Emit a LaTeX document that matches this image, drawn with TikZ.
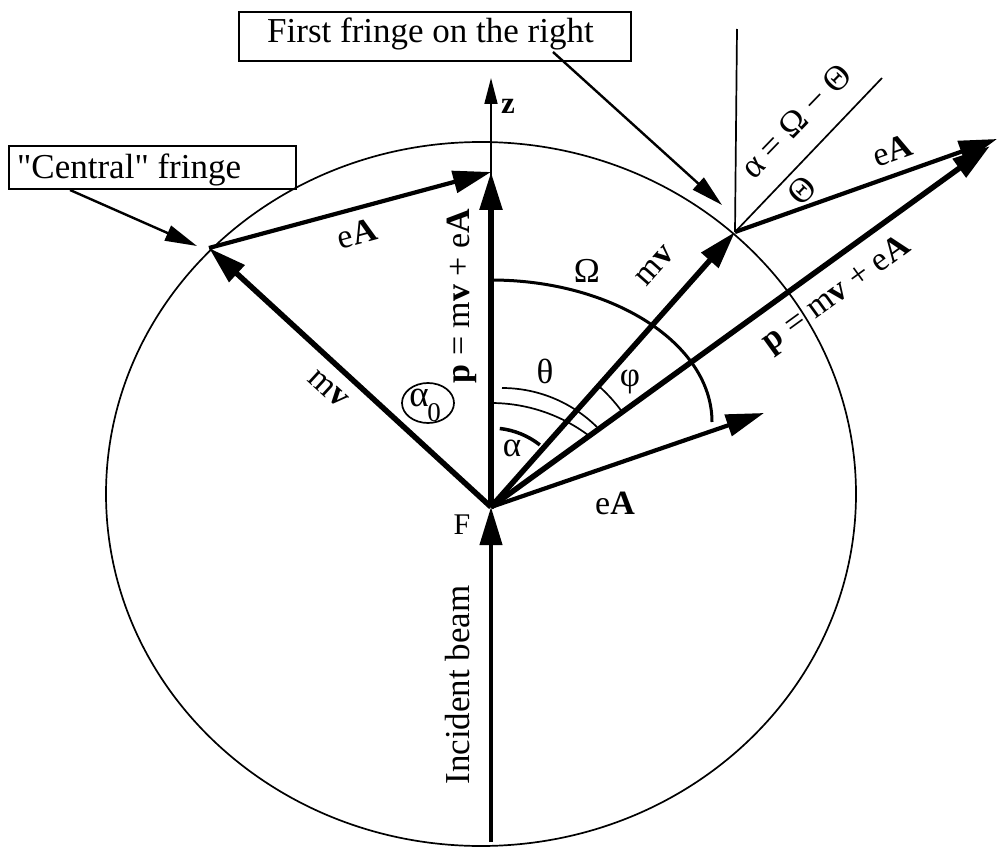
\documentclass[tikz,border=0pt]{standalone}
\usepackage{fontspec}
\newfontfamily\tms{Liberation Serif}
\newfontfamily\pal{Liberation Serif}
\usetikzlibrary{arrows.meta}
\begin{document}
\begin{tikzpicture}[x=1pt,y=-1pt,
  vec/.style={line width=5.5pt, -{Triangle[length=38pt,width=22pt]}},
  veci/.style={line width=4.2pt, -{Triangle[length=38pt,width=22pt]}},
  thinl/.style={line width=1.7pt},
  lead/.style={line width=2.4pt, -{Triangle[length=32pt,width=16pt]}},
  tlab/.style={font=\tms\fontsize{34}{40}\selectfont, inner sep=0pt},
  glab/.style={font=\tms\fontsize{35}{40}\selectfont, inner sep=0pt},
  plab/.style={font=\pal\fontsize{35}{40}\selectfont, inner sep=0pt},
]
\useasboundingbox (0,0) rectangle (997,848);
% circle
\draw[thinl] (481,494) ellipse [x radius=375, y radius=352];
% points
\coordinate (F) at (491,507);
\coordinate (Pt) at (491,172);
\coordinate (L) at (209,248);
\coordinate (R) at (735,232);
\coordinate (T) at (997,139);
\coordinate (Pr) at (990,146);
\coordinate (E) at (764,413);
\coordinate (Z) at (491,78);
\coordinate (Inc) at (491,842);
\coordinate (Vtop) at (737,29);
\coordinate (Dtop) at (882,78);
% z axis
\draw[thinl, -{Triangle[length=26pt,width=13pt]}] (F) -- (Z);
% vectors
\draw[veci] (Inc) -- (F);
\draw[vec] (F) -- (Pt);
\draw[vec] (F) -- (L);
\draw[veci] (L) -- (Pt);
\draw[vec] (F) -- (R);
\draw[veci] (R) -- (T);
\draw[vec] (F) -- (Pr);
\draw[veci] (F) -- (E);
% fringe lines
\draw[thinl] (R) -- (Vtop);
\draw[thinl] (R) -- (Dtop);
% arcs
\draw[line width=3pt] (491,280) .. controls (613,280) and (712,344) .. (712,422);
\draw[thinl] (502,388) arc[start angle=-90, end angle=-45.3, radius=135];
\draw[thinl] (491,403) arc[start angle=-90, end angle=-53.5, radius=163];
\draw[line width=3.5pt] (F) ++(-83.6:79) arc[start angle=-83.6, end angle=-51.8, radius=79];
\draw[thinl] (F) ++(-48.4:162) arc[start angle=-48.4, end angle=-35.9, radius=162];
% boxes
\node[draw, line width=2pt, anchor=north west, minimum width=392pt, minimum height=49pt, inner sep=0pt] (box1) at (238,11) {};
\node[plab, anchor=base west] (box1t) at (267,43) {First fringe on the right};
\node[draw, line width=2pt, anchor=north west, minimum width=287pt, minimum height=43pt, inner sep=0pt] (box2) at (8,145) {};
\node[plab, anchor=base west] (box2t) at (17,179) {"Central" fringe};
% leaders
\coordinate (b1s) at (553,52);
\coordinate (fr1) at (722,205);
\draw[lead] (b1s) -- (fr1);
\coordinate (b2s) at (70,190);
\coordinate (fr2) at (197,246);
\draw[lead] (b2s) -- (fr2);
% labels
\node[plab, font=\pal\bfseries\fontsize{31}{36}\selectfont] (zl) at (508,106) {z};
\node[plab, font=\pal\fontsize{30}{34}\selectfont] (Fl) at (462,525) {F};
\node[plab, rotate=90] (incl) at (458,685) {Incident beam};
\node[tlab, rotate=90] (pl1) at (462,296) {\textbf{p} = m\textbf{v} + e\textbf{A}};
\node[tlab, rotate=35.9] (pl2) at (837,295) {\textbf{p} = m\textbf{v} + e\textbf{A}};
\node[tlab, rotate=48.4] (mvr) at (655,266) {m\textbf{v}};
\node[tlab, rotate=-42.6] (mvl) at (328,389) {m\textbf{v}};
\node[tlab, rotate=15.1] (eal) at (357,234) {e\textbf{A}};
\node[tlab, rotate=19.5] (ear) at (892,150) {e\textbf{A}};
\node[tlab] (eas) at (615,503) {e\textbf{A}};
\node[glab, rotate=46] (Th) at (802,190) {Θ};
\node[glab, rotate=46] (aeq) at (796,121) {α = Ω − Θ};
\node[glab] (Om) at (587,271) {Ω};
\node[glab] (th) at (545,371) {θ};
\node[glab] (ph) at (630,382) {φ};
\node[glab] (al) at (512,448) {α};
\draw[thinl] (428,403) ellipse [x radius=26, y radius=20];
\node[glab, font=\tms\fontsize{37}{40}\selectfont] (a0) at (419,398) {α};
\node[glab, font=\tms\fontsize{27}{30}\selectfont] (a0s) at (434,413) {0};
\end{tikzpicture}
\end{document}
